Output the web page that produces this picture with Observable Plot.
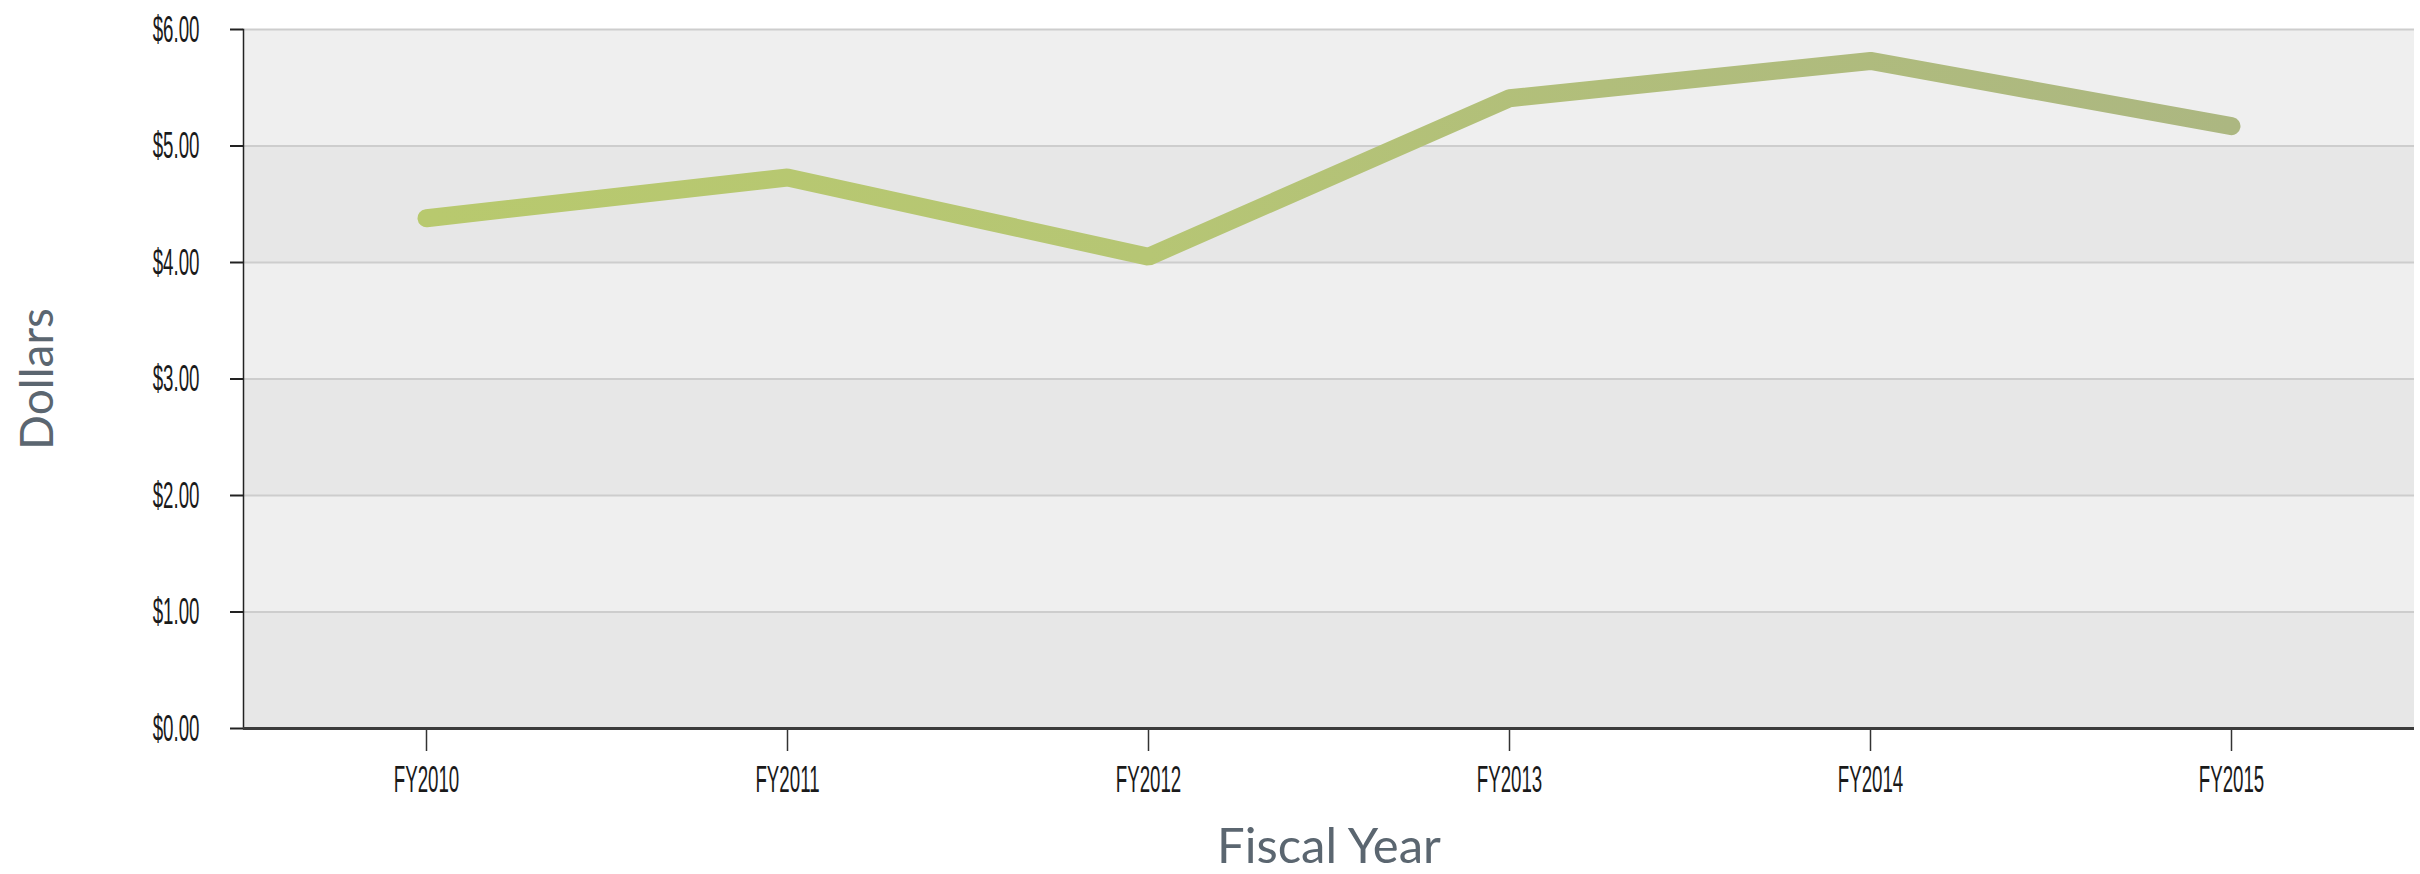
<!DOCTYPE html>
<html><head><meta charset="utf-8">
<script src="https://cdn.jsdelivr.net/npm/d3@7"></script>
<script src="https://cdn.jsdelivr.net/npm/@observablehq/plot@0.6"></script>
<style>
html,body{margin:0;padding:0;background:#fff;}
#chart svg{display:block;}
</style></head><body><div id="chart"></div>
<script>
const years = ["FY2010", "FY2011", "FY2012", "FY2013", "FY2014", "FY2015"];
const dollars = [4.38, 4.73, 4.05, 5.41, 5.73, 5.17];
const yTicks = [0, 1, 2, 3, 4, 5, 6];
const bandColors = ["#e7e7e7", "#efefef"];
const gradientStops = [["0%", "#b8c96e"], ["40%", "#b6c674"], ["65%", "#b1be7b"], ["100%", "#acb781"]];

const data = years.map((year, i) => ({year, value: dollars[i]}));
const bands = yTicks.slice(0, -1).map((t, i) => ({y1: t, y2: yTicks[i + 1], fill: bandColors[i % 2]}));

const narrow = "'Liberation Sans Narrow', 'Arial Narrow', 'Liberation Sans', Arial, sans-serif";
const titleFont = "Lato, 'Open Sans', sans-serif";

const gradientMark = (index, scales) => {
  const ns = "http://www.w3.org/2000/svg";
  const defs = document.createElementNS(ns, "defs");
  const g = document.createElementNS(ns, "linearGradient");
  g.setAttribute("id", "lineGrad");
  g.setAttribute("gradientUnits", "userSpaceOnUse");
  g.setAttribute("x1", scales.x(years[0]));
  g.setAttribute("x2", scales.x(years[years.length - 1]));
  g.setAttribute("y1", 0);
  g.setAttribute("y2", 0);
  for (const [off, col] of gradientStops) {
    const s = document.createElementNS(ns, "stop");
    s.setAttribute("offset", off);
    s.setAttribute("stop-color", col);
    g.appendChild(s);
  }
  defs.appendChild(g);
  return defs;
};

const chart = Plot.plot({
  width: 2420,
  height: 874,
  marginLeft: 243,
  marginRight: 6,
  marginTop: 29,
  marginBottom: 146,
  style: {background: "#fff", overflow: "visible"},
  color: {type: "identity"},
  x: {type: "point", domain: years, padding: 0.5, axis: null},
  y: {domain: [0, 6], axis: null},
  marks: [
    gradientMark,
    Plot.rect(bands, {y1: "y1", y2: "y2", fill: "fill"}),
    Plot.ruleY(yTicks.slice(1), {stroke: "#cdcdcd", strokeWidth: 2}),
    Plot.axisY({ticks: yTicks, tickSize: 13, tickFormat: () => "", stroke: "#222", strokeWidth: 2, label: null}),
    Plot.axisX({tickSize: 23, tickFormat: () => "", stroke: "#333", strokeWidth: 1.5, label: null}),
    Plot.frame({anchor: "left", stroke: "#222", strokeWidth: 1.5}),
    Plot.ruleY([0], {stroke: "#3c3c3c", strokeWidth: 3}),
    Plot.line(data, {x: "year", y: "value", stroke: "url(#lineGrad)", strokeWidth: 18, strokeLinecap: "round", strokeLinejoin: "miter"}),
    Plot.text(yTicks, {y: d => d, text: d => "$" + d.toFixed(2), frameAnchor: "left", dx: -44, textAnchor: "end", lineAnchor: "middle", fontSize: 24, fontFamily: narrow, fill: "#1a1a1a", className: "tl-end"}),
    Plot.text(years, {x: d => d, text: d => d, frameAnchor: "bottom", dy: 51, textAnchor: "middle", lineAnchor: "middle", fontSize: 24, fontFamily: narrow, fill: "#1a1a1a", className: "tl-mid"}),
    Plot.text(["Dollars"], {text: d => d, frameAnchor: "left", dx: -205, rotate: -90, textAnchor: "middle", lineAnchor: "middle", fontSize: 46, fontFamily: titleFont, fill: "#5b6670"}),
    Plot.text(["Fiscal Year"], {text: d => d, frameAnchor: "bottom", dy: 119, textAnchor: "middle", lineAnchor: "middle", fontSize: 49, fontFamily: titleFont, fill: "#5b6670"})
  ]
});

document.getElementById("chart").appendChild(chart);

// Condense and stretch the tick labels (the reference's labels are narrow and tall).
const SX = 0.78, SY = 1.55;
const NS = "http://www.w3.org/2000/svg";
function stretch(selector, pivot) {
  chart.querySelectorAll(selector).forEach(el => {
    const t = el.getAttribute("transform");
    const wrap = document.createElementNS(NS, "g");
    if (t) wrap.setAttribute("transform", t);
    el.parentNode.insertBefore(wrap, el);
    wrap.appendChild(el);
    el.removeAttribute("transform");
    const bb = el.getBBox();
    const cy = bb.y + bb.height / 2;
    const cx = pivot === "end" ? bb.x + bb.width : bb.x + bb.width / 2;
    el.setAttribute("transform", `translate(${cx},${cy}) scale(${SX},${SY}) translate(${-cx},${-cy})`);
  });
}
stretch(".tl-end text", "end");
stretch(".tl-mid text", "mid");
</script>
</body></html>
